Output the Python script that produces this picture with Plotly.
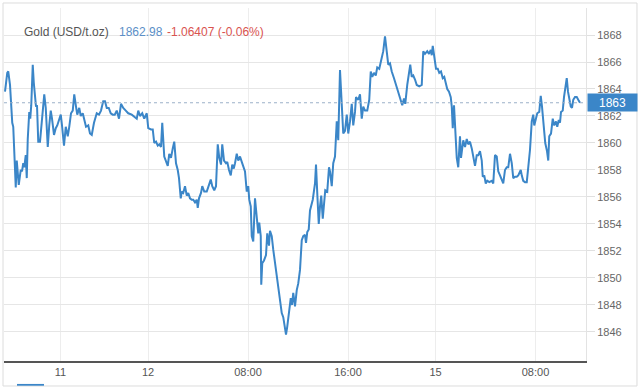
import plotly.graph_objects as go

# trading-time index in hours (0 = start of day "12"), compressed axis
t = [-11.44, -11.26, -11.18, -11.04, -10.86, -10.78, -10.58, -10.50, -10.34, -10.18,
     -10.08, -9.98, -9.90, -9.78, -9.70, -9.62, -9.50, -9.42, -9.34, -9.22,
     -9.14, -9.04, -8.96, -8.88, -8.78, -8.64, -8.50, -8.38, -8.30, -8.18,
     -8.02, -7.90, -7.78, -7.68, -7.52, -7.38, -7.26, -7.12, -6.98, -6.88,
     -6.72, -6.58, -6.42, -6.30, -6.16, -6.02, -5.90, -5.76, -5.66, -5.50,
     -5.38, -5.22, -5.12, -4.96, -4.78, -4.64, -4.50, -4.32, -4.10, -3.92,
     -3.76, -3.58, -3.44, -3.30, -3.14, -2.98, -2.82, -2.66, -2.50, -2.32,
     -2.16, -1.98, -1.78, -1.58, -1.30, -1.04, -0.90, -0.78, -0.64, -0.46,
     -0.30, -0.10, 0.02, 0.24, 0.38, 0.50, 0.64, 0.78, 0.90, 1.04,
     1.14, 1.30, 1.44, 1.58, 1.70, 1.84, 1.98, 2.10, 2.24, 2.38,
     2.48, 2.62, 2.70, 2.82, 2.96, 3.10, 3.22, 3.36, 3.50, 3.62,
     3.76, 3.90, 3.98, 4.08, 4.24, 4.34, 4.50, 4.70, 4.88, 5.02,
     5.14, 5.30, 5.44, 5.58, 5.70, 5.84, 5.94, 6.08, 6.24, 6.34,
     6.48, 6.62, 6.74, 6.86, 6.96, 7.10, 7.22, 7.36, 7.50, 7.62,
     7.76, 7.90, 8.02, 8.10, 8.22, 8.30, 8.42, 8.56, 8.70, 8.82,
     8.90, 9.02, 9.06, 9.14, 9.28, 9.44, 9.54, 9.68, 9.76, 9.90,
     10.02, 10.16, 10.30, 10.42, 10.56, 10.70, 10.82, 10.96, 11.04, 11.14,
     11.28, 11.42, 11.52, 11.62, 11.76, 11.90, 12.02, 12.16, 12.30, 12.42,
     12.56, 12.64, 12.74, 12.86, 12.96, 13.18, 13.36, 13.44, 13.54, 13.66,
     13.76, 13.86, 13.98, 14.08, 14.18, 14.34, 14.48, 14.56, 14.70, 14.82,
     14.96, 15.10, 15.22, 15.36, 15.50, 15.62, 15.76, 15.90, 16.02, 16.16,
     16.30, 16.42, 16.56, 16.64, 16.82, 16.96, 17.10, 17.22, 17.36, 17.54,
     17.70, 17.82, 17.94, 18.08, 18.22, 18.34, 18.50, 18.62, 18.74, 18.82,
     18.96, 19.10, 19.22, 19.36, 19.50, 19.68, 19.84, 20.02, 20.22, 20.34,
     20.48, 20.58, 20.74, 20.90, 20.98, 21.10, 21.22, 21.36, 21.50, 21.70,
     21.90, 22.02, 22.16, 22.34, 22.48, 22.62, 22.70, 22.78, 22.88, 23.04,
     23.18, 23.30, 23.44, 23.58, 23.70, 23.84, 23.94, 24.08, 24.22, 24.30,
     24.38, 24.48, 24.58, 24.70, 24.82, 24.96, 25.04, 25.14, 25.22, 25.36,
     25.50, 25.62, 25.76, 25.90, 26.02, 26.16, 26.30, 26.42, 26.56, 26.70,
     26.78, 26.90, 27.02, 27.14, 27.30, 27.50, 27.62, 27.76, 27.90, 28.02,
     28.16, 28.30, 28.42, 28.56, 28.70, 28.82, 28.96, 29.10, 29.22, 29.36,
     29.50, 29.62, 29.82, 29.90, 30.02, 30.16, 30.30, 30.42, 30.56, 30.70,
     30.82, 30.90, 31.04, 31.14, 31.30, 31.42, 31.52, 31.66, 31.78, 31.92,
     32.02, 32.10, 32.24, 32.38, 32.50, 32.64, 32.74, 32.86, 32.96, 33.04,
     33.18, 33.28, 33.38, 33.50, 33.60, 33.70, 33.82, 33.92, 34.02, 34.16,
     34.30, 34.42, 34.56]

price = [1863.8, 1865.2, 1865.3, 1864.3, 1861.5, 1861.2, 1856.7, 1858.7, 1856.9, 1858.0,
         1857.9, 1858.5, 1858.2, 1859.1, 1857.4, 1860.3, 1862.3, 1861.8, 1862.8, 1865.8,
         1864.5, 1863.3, 1862.7, 1862.8, 1860.1, 1860.1, 1861.6, 1862.6, 1863.6, 1862.6,
         1859.7, 1861.3, 1862.4, 1861.8, 1860.6, 1861.1, 1861.3, 1861.7, 1862.1, 1861.3,
         1859.8, 1861.2, 1860.5, 1861.2, 1862.2, 1862.4, 1863.6, 1862.7, 1862.1, 1862.6,
         1862.0, 1862.2, 1861.8, 1861.2, 1861.3, 1860.7, 1860.6, 1861.5, 1862.2, 1862.1,
         1862.4, 1863.1, 1863.1, 1862.6, 1862.6, 1862.2, 1862.1, 1862.1, 1862.4, 1861.8,
         1862.9, 1862.6, 1862.4, 1862.2, 1862.1, 1861.9, 1861.8, 1862.4, 1862.0, 1862.2,
         1861.8, 1862.2, 1861.1, 1861.0, 1861.0, 1860.0, 1860.1, 1859.8, 1859.9, 1859.7,
         1861.5, 1859.0, 1858.6, 1858.3, 1859.2, 1858.9, 1859.6, 1860.1, 1858.5, 1858.0,
         1857.4, 1855.9, 1856.4, 1856.3, 1856.8, 1856.1, 1856.3, 1855.9, 1855.8, 1855.8,
         1855.6, 1855.8, 1855.2, 1855.9, 1856.3, 1856.8, 1856.4, 1856.4, 1856.9, 1857.3,
         1856.8, 1856.5, 1856.8, 1859.9, 1858.9, 1858.4, 1859.9, 1858.7, 1858.5, 1858.6,
         1858.0, 1857.6, 1858.4, 1858.1, 1858.5, 1859.2, 1858.7, 1859.0, 1858.6, 1858.2,
         1857.9, 1856.4, 1856.8, 1855.8, 1855.3, 1853.1, 1852.7, 1855.9, 1854.3, 1853.3,
         1854.1, 1853.1, 1849.5, 1851.1, 1851.3, 1851.7, 1853.3, 1852.4, 1853.5, 1853.1,
         1852.1, 1851.1, 1850.3, 1849.6, 1848.6, 1847.4, 1847.1, 1846.4, 1845.8, 1846.4,
         1847.5, 1848.5, 1848.0, 1848.9, 1847.9, 1849.1, 1849.6, 1850.6, 1852.8, 1853.1,
         1853.2, 1852.6, 1853.4, 1853.6, 1855.0, 1855.8, 1857.0, 1858.4, 1856.3, 1854.0,
         1855.3, 1856.1, 1854.4, 1855.4, 1856.5, 1856.4, 1858.2, 1857.9, 1856.8, 1858.5,
         1859.0, 1861.6, 1860.2, 1865.4, 1862.6, 1860.7, 1860.9, 1862.1, 1860.7, 1861.6,
         1862.9, 1861.3, 1862.3, 1863.4, 1863.2, 1863.6, 1861.8, 1862.7, 1862.4, 1862.4,
         1863.2, 1865.3, 1864.9, 1865.2, 1865.0, 1865.6, 1865.5, 1866.0, 1866.3, 1866.8,
         1867.9, 1866.5, 1865.8, 1865.9, 1865.3, 1864.8, 1864.3, 1863.8, 1863.2, 1862.8,
         1863.3, 1862.9, 1864.3, 1865.2, 1865.8, 1864.9, 1865.0, 1864.7, 1864.3, 1864.2,
         1864.3, 1866.8, 1866.6, 1866.8, 1866.6, 1866.9, 1866.5, 1867.2, 1866.6, 1865.5,
         1865.5, 1865.2, 1865.3, 1864.8, 1864.9, 1864.4, 1864.0, 1863.8, 1863.4, 1862.7,
         1861.1, 1862.8, 1861.3, 1858.9, 1858.2, 1860.5, 1858.9, 1859.6, 1860.2, 1859.7,
         1860.3, 1859.9, 1860.1, 1859.6, 1859.0, 1858.3, 1859.1, 1859.1, 1859.4, 1858.7,
         1857.5, 1857.6, 1857.0, 1857.2, 1857.1, 1857.2, 1857.0, 1859.1, 1859.0, 1857.9,
         1857.6, 1857.3, 1857.0, 1858.0, 1858.2, 1858.2, 1859.2, 1858.5, 1857.4, 1857.5,
         1857.5, 1857.6, 1858.0, 1857.6, 1857.2, 1857.1, 1857.1, 1858.2, 1859.5, 1861.6,
         1862.1, 1861.3, 1861.8, 1862.2, 1862.3, 1863.5, 1862.7, 1861.2, 1860.0, 1859.4,
         1858.7, 1860.5, 1860.7, 1861.8, 1861.3, 1861.6, 1861.2, 1861.7, 1861.5, 1862.3,
         1862.4, 1863.4, 1864.1, 1864.8, 1863.8, 1863.4, 1862.7, 1862.6, 1863.2, 1863.4,
         1863.4, 1863.2, 1862.98]

tick_pos = [-7, 0, 8, 16, 23, 31]
tick_text = ["11", "12", "08:00", "16:00", "15", "08:00"]
y_ticks = [1846, 1848, 1850, 1852, 1854, 1856, 1858, 1860, 1862, 1864, 1866, 1868]

last_price = 1862.98
change_text = "-1.06407 (-0.06%)"
name_text = "Gold (USD/t.oz)"

FONT = "Liberation Sans, Arial, sans-serif"
BLUE = "#3b86c8"

fig = go.Figure()
fig.add_trace(go.Scatter(x=t, y=price, mode="lines",
                         line=dict(color=BLUE, width=2), hoverinfo="skip",
                         showlegend=False))

fig.update_layout(
    width=640, height=390,
    margin=dict(l=4, r=54, t=8, b=29),
    paper_bgcolor="white", plot_bgcolor="white",
    font=dict(family=FONT, size=11, color="#555"),
    showlegend=False,
    xaxis=dict(range=[-11.52, 35.04], tickmode="array", tickvals=tick_pos,
               ticktext=tick_text, showgrid=True, gridcolor="#ededed", gridwidth=1,
               showline=True, linecolor="#555555", linewidth=2, ticks="",
               tickfont=dict(size=11, color="#555"), zeroline=False, fixedrange=True),
    yaxis=dict(range=[1843.85, 1870], side="right", tickmode="array", tickvals=y_ticks,
               showgrid=True, gridcolor="#e6e6e6", gridwidth=1, ticks="outside",
               ticklen=8, tickcolor="#e0e0e0", showline=True, linecolor="#e3e3e3",
               linewidth=1, tickfont=dict(size=11, color="#666"), zeroline=False),
)

# current price dotted line
fig.add_shape(type="line", xref="paper", yref="y", x0=0, x1=1,
              y0=last_price, y1=last_price,
              line=dict(color="#9bb0c8", width=1, dash="dot"))

# card border
fig.add_shape(type="rect", xref="paper", yref="paper",
              x0=-0.0017, x1=1.0876, y0=-0.0708, y1=1.0142,
              line=dict(color="#dcdcdc", width=1), layer="below")
# blue tab underline
fig.add_shape(type="rect", xref="paper", yref="paper",
              x0=0.0223, x1=0.0687, y0=-0.0700, y1=-0.0650,
              line=dict(width=0), fillcolor=BLUE)

# header texts
fig.add_annotation(xref="paper", yref="paper", x=0.0309, y=0.932, xanchor="left",
                   yanchor="middle", text=name_text, showarrow=False,
                   font=dict(family=FONT, size=12, color="#555"))
fig.add_annotation(xref="paper", yref="paper", x=0.1942, y=0.932, xanchor="left",
                   yanchor="middle", text=f"{last_price:.2f}", showarrow=False,
                   font=dict(family=FONT, size=12, color="#5b8fc7"))
fig.add_annotation(xref="paper", yref="paper", x=0.2766, y=0.932, xanchor="left",
                   yanchor="middle", text=change_text, showarrow=False,
                   font=dict(family=FONT, size=12, color="#d9534f"))

# price label box on the axis
fig.add_annotation(xref="paper", yref="y", x=1.0447, y=last_price, xanchor="center",
                   yanchor="middle", text=f"{round(last_price):d}", showarrow=False,
                   bgcolor=BLUE, width=47, height=15, borderpad=1,
                   font=dict(family=FONT, size=12, color="white"))

fig.write_html("out.html", config={"displayModeBar": False},
               post_script="document.body.style.margin='0';")
